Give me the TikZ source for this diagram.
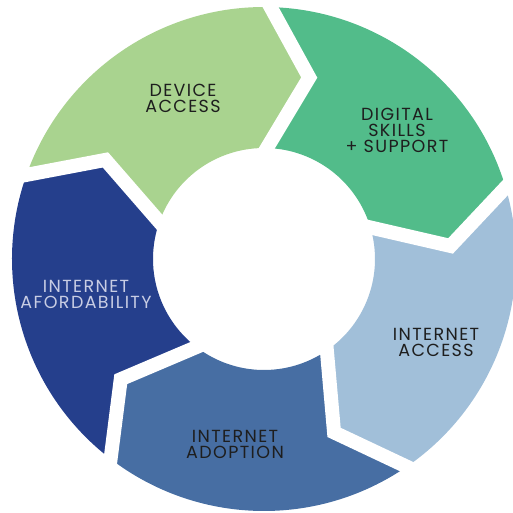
\documentclass[tikz,border=0pt]{standalone}
\usepackage{fontspec}
\setmainfont{Poppins}[LetterSpace=8]
\definecolor{cDevice}{HTML}{A9D38F}
\definecolor{cDigital}{HTML}{52BC8A}
\definecolor{cAccess}{HTML}{A1BFD9}
\definecolor{cAdopt}{HTML}{476EA3}
\definecolor{cAfford}{HTML}{253F8C}
\definecolor{cDark}{HTML}{1E1E1E}
\definecolor{cLight}{HTML}{C8CDE4}
\newcommand\ringseg[2]{%
  \fill[#2] (#1:252) arc[start angle=#1, end angle={#1-72}, radius=252]
    -- ({#1-84.5}:187) -- ({#1-72}:111)
    arc[start angle={#1-72}, end angle=#1, radius=111]
    -- ({#1-12.5}:187) -- cycle;}
\newcommand\ringgap[1]{%
  \draw[gapline] (#1:252) -- ({#1-12.5}:187) -- (#1:111);}
\tikzset{
  gapline/.style={white, line width=14, line join=miter, shorten <=-10, shorten >=-10},
  label/.style={align=center, font=\fontsize{17.5}{16}\selectfont, inner sep=0pt, text=cDark},
}
\begin{document}
\begin{tikzpicture}[x=1pt, y=1pt]
\useasboundingbox (-264,-253) rectangle (249,259);
\ringseg{160.5}{cDevice}
\ringseg{88.5}{cDigital}
\ringseg{16.5}{cAccess}
\ringseg{-55.5}{cAdopt}
\ringseg{-127.5}{cAfford}
\ringgap{88.5}
\ringgap{16.5}
\ringgap{-55.5}
\ringgap{-127.5}
\ringgap{160.5}
\node[label] (device) at (-81,160.5) {DEVICE\\ACCESS};
\node[label] (digital) at (133,128.5) {DIGITAL\\SKILLS\\+ SUPPORT};
\node[label] (access) at (172,-83) {INTERNET\\ACCESS};
\node[label] (adopt) at (-29,-185) {INTERNET\\ADOPTION};
\node[label, text=cLight] (afford) at (-178,-35) {INTERNET\\AFORDABILITY};
\end{tikzpicture}
\end{document}
